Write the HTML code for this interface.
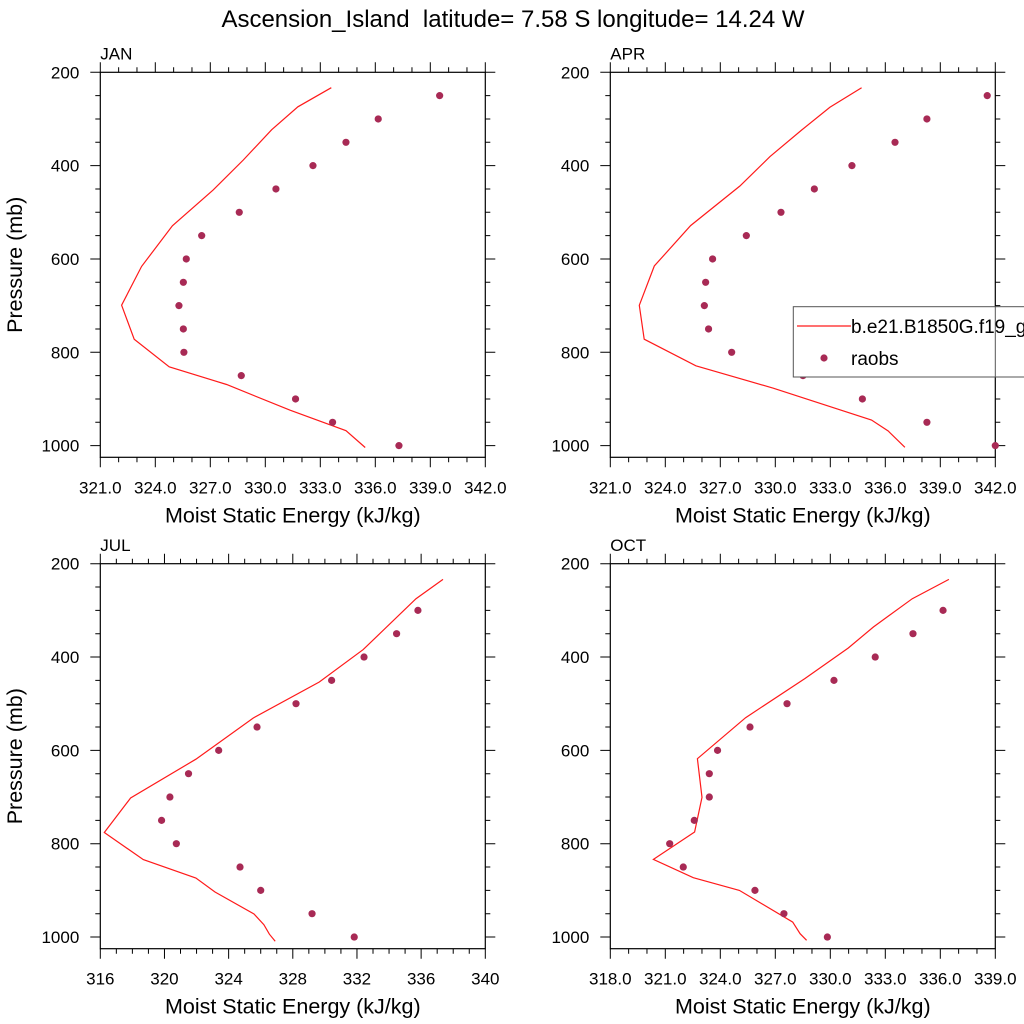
<!DOCTYPE html>
<html><head><meta charset="utf-8"><style>
html,body{margin:0;padding:0;background:#fff;}
svg{display:block;font-family:"Liberation Sans",Arial,sans-serif;}
</style></head><body>
<svg id="chart" width="1024" height="1024" viewBox="0 0 1024 1024" xmlns="http://www.w3.org/2000/svg">
<text x="513" y="27" text-anchor="middle" font-size="24" xml:space="preserve">Ascension_Island  latitude= 7.58 S longitude= 14.24 W</text>
</svg>
<script>
const janModelP=[233,274,323,388,452,529,616,699,772,831,869,924,968,1004];
const janModelV=[333.6,331.78,330.35,328.8,327.16,324.93,323.25,322.16,322.85,324.76,327.89,331.35,334.4,335.45];
const janObsP=[250,300,350,400,450,500,550,600,650,700,750,800,850,900,950,1000];
const janObsV=[339.51,336.16,334.4,332.6,330.58,328.58,326.53,325.69,325.53,325.29,325.53,325.56,328.69,331.65,333.67,337.29];
const aprModelP=[233,275,323.6,380.7,443.6,528.6,615,699.3,772,829,877,945,968.6,1003.6];
const aprModelV=[334.71,332.98,331.44,329.71,328.07,325.38,323.4,322.58,322.85,325.67,329.89,335.25,336.16,337.07];
const aprObsP=[250,300,350,400,450,500,550,600,650,700,750,800,850,900,950,1000];
const aprObsV=[341.56,338.27,336.53,334.18,332.13,330.31,328.42,326.58,326.2,326.13,326.36,327.62,331.51,334.75,338.27,342.0];
const julModelP=[233.6,275,384,453.6,530.7,619,702,776,834,873.6,903.6,950.7,973.6,994,1009];
const julModelV=[337.36,335.68,332.39,329.65,325.54,321.96,317.89,316.25,318.68,321.96,323.15,325.58,326.2,326.54,326.9];
const julObsP=[300,350,400,450,500,550,600,650,700,750,800,850,900,950,1000];
const julObsV=[335.8,334.47,332.44,330.42,328.2,325.77,323.38,321.5,320.34,319.82,320.74,324.71,326.0,329.2,331.83];
const octModelP=[233.6,275,335.7,380.7,446,530,617.9,700.7,775,833.6,872.9,900,967.9,992.9,1007];
const octModelV=[336.47,334.47,332.35,330.98,328.62,325.38,322.75,323.0,322.6,320.35,322.53,325.04,327.95,328.35,328.71];
const octObsP=[300,350,400,450,500,550,600,650,700,750,800,850,900,950,1000];
const octObsV=[336.15,334.51,332.45,330.2,327.64,325.62,323.85,323.4,323.4,322.58,321.24,321.98,325.89,327.47,329.84];
const janTicks=["321.0","324.0","327.0","330.0","333.0","336.0","339.0","342.0"];
const julTicks=["316","320","324","328","332","336","340"];
const octTicks=["318.0","321.0","324.0","327.0","330.0","333.0","336.0","339.0"];
const pTicks=[200,400,600,800,1000];

const NS="http://www.w3.org/2000/svg";
const svg=document.getElementById('chart');
function mk(tag,attrs,parent){const e=document.createElementNS(NS,tag);for(const k in attrs)e.setAttribute(k,attrs[k]);(parent||svg).appendChild(e);return e;}

const panels=[
 {name:'jan',title:'JAN',x0:100.3,y0:72.3,xmin:321,xmax:342,minor:1,ticks:janTicks,mp:janModelP,mv:janModelV,op:janObsP,ov:janObsV,ylab:true},
 {name:'apr',title:'APR',x0:610.3,y0:72.3,xmin:321,xmax:342,minor:1,ticks:janTicks,mp:aprModelP,mv:aprModelV,op:aprObsP,ov:aprObsV,ylab:false},
 {name:'jul',title:'JUL',x0:100.3,y0:563.7,xmin:316,xmax:340,minor:1,ticks:julTicks,mp:julModelP,mv:julModelV,op:julObsP,ov:julObsV,ylab:true},
 {name:'oct',title:'OCT',x0:610.3,y0:563.7,xmin:318,xmax:339,minor:1,ticks:octTicks,mp:octModelP,mv:octModelV,op:octObsP,ov:octObsV,ylab:false}
];
const W=385,H=385;
panels.forEach(p=>{
 const g=mk('g',{});
 
 
 const xs=v=>p.x0+(v-p.xmin)/(p.xmax-p.xmin)*W;
 const ys=v=>p.y0+(v-200)/825*H;
 const t=mk('text',{x:p.x0,y:p.y0-12.6,'font-size':17},g);t.textContent=p.title;
 
 
 let d='';
 const step=(p.xmax-p.xmin)/(p.ticks.length-1);
 for(let v=p.xmin;v<=p.xmax+1e-6;v+=p.minor){
  const x=xs(v);const r=((v-p.xmin)/step)%1;const major=r<1e-6||Math.abs(r-1)<1e-6;
  const L=major?10:5;
  d+=`M${x},${p.y0}v${-L}M${x},${p.y0+H}v${L}`;
 }
 for(let v=200;v<=1000;v+=50){
  const y=ys(v);const L=(v%200===0)?10:5;
  d+=`M${p.x0},${y}h${-L}M${p.x0+W},${y}h${L}`;
 }
 const tk=mk('path',{d:d,stroke:'#000','stroke-width':1,fill:'none'},g);
 
 
 const fr=mk('rect',{x:p.x0,y:p.y0,width:W,height:H,fill:'none',stroke:'#000','stroke-width':1.2},g);
 
 
 p.ticks.forEach((lab,i)=>{
  const v=p.xmin+i*step;
  const e=mk('text',{x:xs(v),y:p.y0+H+36,'text-anchor':'middle','font-size':17},g);e.textContent=lab;
  
  
 });
 pTicks.forEach(v=>{
  const e=mk('text',{x:p.x0-21,y:ys(v)+6,'text-anchor':'end','font-size':17},g);e.textContent=v;
  
  
 });
 const xt=mk('text',{x:p.x0+W/2,y:p.y0+H+65,'text-anchor':'middle','font-size':21.5},g);xt.textContent='Moist Static Energy (kJ/kg)';
 
 
 if(p.ylab){
  const cy=p.y0+H/2;
  const yt=mk('text',{x:22,y:cy,'text-anchor':'middle','font-size':21.5,transform:`rotate(-90 22 ${cy})`},g);yt.textContent='Pressure (mb)';
  
  
 }
 const pts=p.mv.map((v,i)=>xs(v).toFixed(1)+','+ys(p.mp[i]).toFixed(1)).join(' ');
 const ln=mk('polyline',{points:pts,fill:'none',stroke:'#ff1a1a','stroke-width':1.2},g);
 
 
 p.ov.forEach((v,i)=>{
  const c=mk('circle',{cx:xs(v),cy:ys(p.op[i]),r:3.6,fill:'#a82a55'},g);
  
  
 });
});
const lg=mk('g',{});


mk('rect',{x:793.3,y:306.7,width:240,height:70.3,fill:'#fff',stroke:'#555','stroke-width':1},lg);
mk('line',{x1:995.3,y1:306.7,x2:995.3,y2:377,stroke:'#555','stroke-width':1},lg);
mk('line',{x1:797,y1:326,x2:851,y2:326,stroke:'#ff1a1a','stroke-width':1.2},lg);
const l1=mk('text',{x:851,y:333,'font-size':19},lg);l1.textContent='b.e21.B1850G.f19_g17';


mk('circle',{cx:824,cy:358,r:3.6,fill:'#a82a55'},lg);
const l2=mk('text',{x:851,y:365,'font-size':19},lg);l2.textContent='raobs';


</script>
</body></html>
